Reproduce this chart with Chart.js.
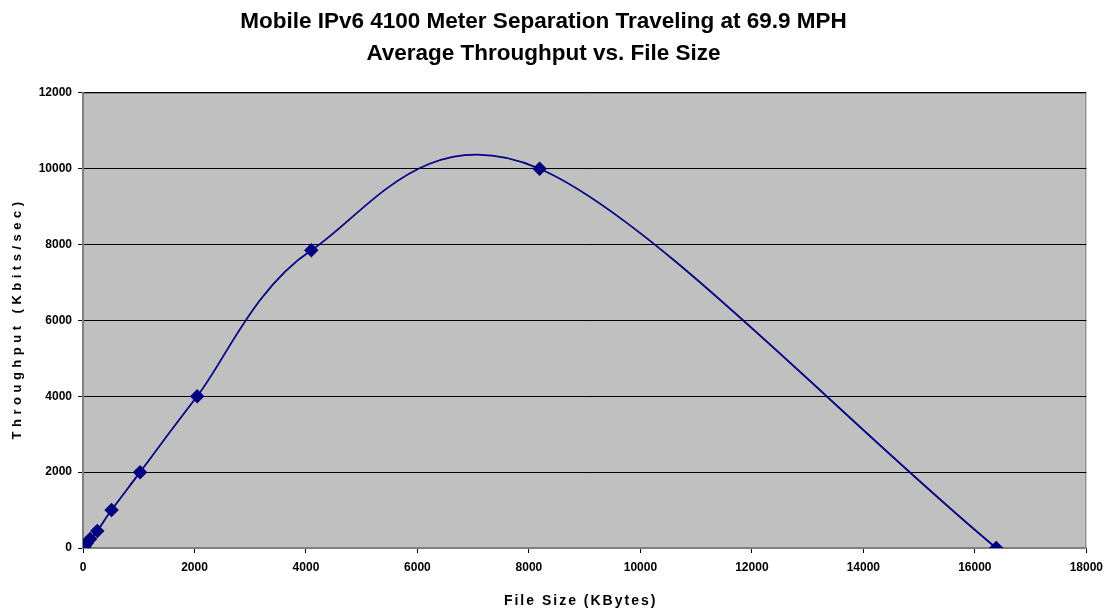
<!DOCTYPE html>
<html>
<head>
<meta charset="utf-8">
<title>Mobile IPv6 Throughput vs File Size</title>
<script src="https://cdn.jsdelivr.net/npm/chart.js@4.4.1/dist/chart.umd.min.js"></script>
<style>
  html, body { margin: 0; padding: 0; background: #fff; }
  #wrap { width: 1110px; height: 610px; position: relative; }
</style>
</head>
<body>
<div id="wrap"><canvas id="chart"></canvas></div>
<script>
// --- Data ---
const fileSizes = [1, 2, 4, 8, 16, 32, 64, 128, 256, 512, 1024, 2048, 4096, 8192, 16384];
const throughput = [2, 4, 8, 16, 30, 60, 120, 240, 450, 1000, 2000, 4000, 7850, 10000, 0];
const titleLines = ['Mobile IPv6 4100 Meter Separation Traveling at 69.9 MPH', 'Average Throughput vs. File Size'];
const xTitle = 'File Size (KBytes)';
const yTitle = 'Throughput (Kbits/sec)';

const FONT = '"Liberation Sans", Arial, sans-serif';

// grey plot area + top/right frame
const plotBackground = {
    id: 'plotBackground',
    beforeDraw(chart) {
        const { ctx, chartArea: a } = chart;
        ctx.save();
        ctx.fillStyle = '#c0c0c0';
        ctx.fillRect(a.left, a.top, a.right - a.left, a.bottom - a.top);
        ctx.strokeStyle = '#808080';
        ctx.lineWidth = 1;
        ctx.beginPath();
        ctx.moveTo(a.left, a.top + 0.5);
        ctx.lineTo(a.right - 0.5, a.top + 0.5);
        ctx.lineTo(a.right - 0.5, a.bottom);
        ctx.stroke();
        ctx.restore();
    }
};

// Excel-like smoothing: uniform Catmull-Rom control points (1/6 of neighbour chord)
const excelSmooth = {
    id: 'excelSmooth',
    beforeDatasetsDraw(chart) {
        chart.getSortedVisibleDatasetMetas().forEach(meta => {
            const line = meta.dataset;
            if (!line) return;
            line.updateControlPoints(chart.chartArea, meta.indexAxis);
            const pts = meta.data;
            const n = pts.length;
            for (let i = 0; i < n; i++) {
                const p = pts[i];
                const prev = pts[i - 1];
                const next = pts[i + 1];
                let dx, dy;
                if (prev && next) {
                    dx = (next.x - prev.x) / 6; dy = (next.y - prev.y) / 6;
                } else if (next) {
                    dx = (next.x - p.x) / 3; dy = (next.y - p.y) / 3;
                } else {
                    dx = (p.x - prev.x) / 3; dy = (p.y - prev.y) / 3;
                }
                p.cp1x = p.x - dx; p.cp1y = p.y - dy;
                p.cp2x = p.x + dx; p.cp2y = p.y + dy;
            }
        });
    }
};

// axis titles drawn with wide letter spacing like the original
const axisTitles = {
    id: 'axisTitles',
    afterDraw(chart) {
        const { ctx, chartArea: a } = chart;
        ctx.save();
        ctx.fillStyle = '#000';
        ctx.textAlign = 'center';
        ctx.textBaseline = 'middle';
        ctx.font = 'bold 14px ' + FONT;
        ctx.letterSpacing = '2px';
        ctx.fillText(xTitle, (a.left + a.right) / 2 - 4, 601);
        ctx.font = 'bold 13px ' + FONT;
        ctx.letterSpacing = '4.5px';
        ctx.translate(17, (a.top + a.bottom) / 2);
        ctx.rotate(-Math.PI / 2);
        ctx.fillText(yTitle, 2, 0);
        ctx.restore();
    }
};

const points = fileSizes.map((x, i) => ({ x: x, y: throughput[i] }));
const plainNumber = v => String(v);

new Chart(document.getElementById('chart'), {
    type: 'scatter',
    data: {
        datasets: [{
            data: points,
            showLine: true,
            borderColor: '#000080',
            backgroundColor: '#000080',
            borderWidth: 1.8,
            tension: 0.3,
            pointStyle: 'rectRot',
            pointRadius: 6,
            pointHoverRadius: 6
        }]
    },
    options: {
        responsive: true,
        maintainAspectRatio: false,
        animation: false,
        layout: { padding: { left: 0, right: 23, top: 0, bottom: 0 } },
        plugins: {
            legend: { display: false },
            tooltip: { enabled: false },
            title: {
                display: true,
                text: titleLines,
                color: '#000',
                font: { family: FONT, size: 22.5, weight: 'bold', lineHeight: 1.42 },
                padding: { top: 6, bottom: 23 }
            }
        },
        scales: {
            x: {
                type: 'linear',
                min: 0,
                max: 18000,
                afterFit(scale) { scale.height = 62; },
                ticks: {
                    stepSize: 2000,
                    color: '#000',
                    padding: 7,
                    maxRotation: 0,
                    callback: plainNumber,
                    font: { family: FONT, size: 12, weight: 'bold' }
                },
                grid: { drawOnChartArea: false, drawTicks: true, tickLength: 5, color: '#000' },
                border: { color: '#808080', width: 2 }
            },
            y: {
                min: 0,
                max: 12000,
                afterFit(scale) { scale.width = 83; },
                ticks: {
                    stepSize: 2000,
                    color: '#000',
                    padding: 6,
                    callback: plainNumber,
                    font: { family: FONT, size: 12, weight: 'bold' }
                },
                grid: { color: '#000', tickLength: 5 },
                border: { color: '#808080', width: 2 }
            }
        }
    },
    plugins: [plotBackground, excelSmooth, axisTitles]
});
</script>
</body>
</html>
